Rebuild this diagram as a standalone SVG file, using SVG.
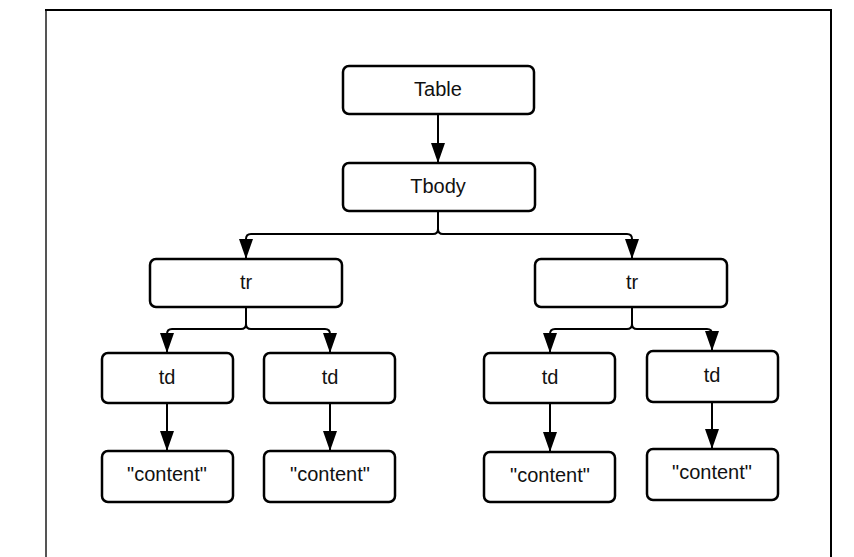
<svg xmlns="http://www.w3.org/2000/svg" width="854" height="557" viewBox="0 0 854 557">
  <style>
    .box { fill: #ffffff; stroke: #000000; stroke-width: 2.5; }
    .lbl { font-family: "Liberation Sans", Arial, sans-serif; font-size: 20px; fill: #111111; text-anchor: middle; }
    .conn { fill: none; stroke: #000000; stroke-width: 2; }
  </style>
  <defs>
    <marker id="arrow" markerUnits="userSpaceOnUse" markerWidth="22" markerHeight="16" viewBox="0 -8 22 16" refX="20" refY="0" orient="auto">
      <path d="M0,-7 L20,0 L0,7 z" fill="#000000"/>
    </marker>
  </defs>
  <rect width="854" height="557" fill="#ffffff"/>
  <g id="frame">
    <line x1="46" y1="10" x2="46" y2="557" stroke="#555555" stroke-width="2"/>
    <line x1="45" y1="10" x2="832" y2="10" stroke="#000000" stroke-width="2"/>
    <line x1="831" y1="10" x2="831" y2="557" stroke="#000000" stroke-width="2"/>
  </g>
  <g id="connectors">
    <path class="conn" d="M438,114 V163" marker-end="url(#arrow)"/>
    <path class="conn" d="M438,211 V229 Q438,234 433,234 H251 Q246,234 246,239 V259" marker-end="url(#arrow)"/>
    <path class="conn" d="M438,229 Q438,234 443,234 H627 Q632,234 632,239 V259" marker-end="url(#arrow)"/>
    <path class="conn" d="M246,307 V324 Q246,329 241,329 H172 Q167,329 167,334 V353" marker-end="url(#arrow)"/>
    <path class="conn" d="M246,324 Q246,329 251,329 H325 Q330,329 330,334 V353" marker-end="url(#arrow)"/>
    <path class="conn" d="M632,307 V324 Q632,329 627,329 H555 Q550,329 550,334 V353" marker-end="url(#arrow)"/>
    <path class="conn" d="M632,324 Q632,329 637,329 H707 Q712,329 712,334 V351" marker-end="url(#arrow)"/>
    <path class="conn" d="M167,403 V451" marker-end="url(#arrow)"/>
    <path class="conn" d="M330,403 V451" marker-end="url(#arrow)"/>
    <path class="conn" d="M550,403 V452" marker-end="url(#arrow)"/>
    <path class="conn" d="M712,402 V449" marker-end="url(#arrow)"/>
  </g>
  <g id="table">
    <rect class="box" x="343" y="66" width="191" height="48" rx="6"/>
    <text class="lbl" x="438" y="96">Table</text>
  </g>
  <g id="tbody">
    <rect class="box" x="343" y="163" width="192" height="48" rx="6"/>
    <text class="lbl" x="438" y="193">Tbody</text>
  </g>
  <g id="tr1">
    <rect class="box" x="150" y="259" width="192" height="48" rx="6"/>
    <text class="lbl" x="246" y="289">tr</text>
  </g>
  <g id="tr2">
    <rect class="box" x="535" y="259" width="192" height="48" rx="6"/>
    <text class="lbl" x="632" y="289">tr</text>
  </g>
  <g id="td1">
    <rect class="box" x="102" y="353" width="131" height="50" rx="6"/>
    <text class="lbl" x="167" y="384">td</text>
  </g>
  <g id="td2">
    <rect class="box" x="264" y="353" width="131" height="50" rx="6"/>
    <text class="lbl" x="330" y="384">td</text>
  </g>
  <g id="td3">
    <rect class="box" x="484" y="353" width="131" height="50" rx="6"/>
    <text class="lbl" x="550" y="384">td</text>
  </g>
  <g id="td4">
    <rect class="box" x="647" y="351" width="131" height="51" rx="6"/>
    <text class="lbl" x="712" y="382">td</text>
  </g>
  <g id="content1">
    <rect class="box" x="102" y="451" width="131" height="51" rx="6"/>
    <text class="lbl" x="167" y="481">"content"</text>
  </g>
  <g id="content2">
    <rect class="box" x="264" y="451" width="131" height="51" rx="6"/>
    <text class="lbl" x="330" y="481">"content"</text>
  </g>
  <g id="content3">
    <rect class="box" x="484" y="452" width="131" height="50" rx="6"/>
    <text class="lbl" x="550" y="482">"content"</text>
  </g>
  <g id="content4">
    <rect class="box" x="647" y="449" width="131" height="51" rx="6"/>
    <text class="lbl" x="712" y="479">"content"</text>
  </g>
</svg>
